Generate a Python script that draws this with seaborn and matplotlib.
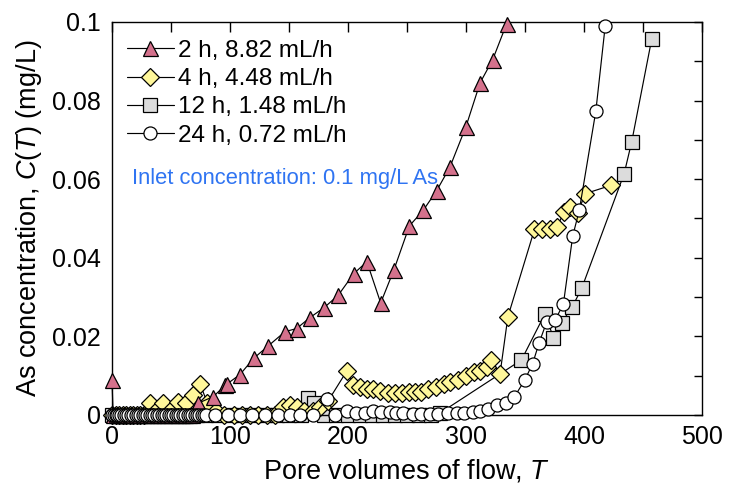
import matplotlib
matplotlib.use("Agg")
import matplotlib.pyplot as plt
import seaborn as sns
import numpy as np
import pandas as pd
from matplotlib.ticker import MultipleLocator

# ---------------- data ----------------
labels = ["2 h, 8.82 mL/h", "4 h, 4.48 mL/h", "12 h, 1.48 mL/h", "24 h, 0.72 mL/h"]

t2_x = [0, 1, 3, 5, 7, 9, 11, 13, 15, 17, 20, 23, 26, 29, 32, 35, 38, 41, 44, 47, 50,
        53, 56, 59, 62, 65, 68, 73, 86, 96, 97.5, 108.5, 120, 132.5, 146.6, 156.5,
        167.8, 179.7, 191.8, 205, 216, 227.7, 239, 252, 263.8, 275, 286.4, 300,
        311.9, 322.6, 334.5]
t2_y = [0.009, 0.0, 0.0, 0.0, 0.0, 0.0, 0.0, 0.0, 0.0, 0.0, 0.0, 0.0, 0.0, 0.0, 0.0,
        0.0, 0.0, 0.0, 0.0, 0.0, 0.0, 0.0, 0.0, 0.0, 0.0, 0.0, 0.0, 0.003, 0.0047,
        0.0076, 0.0079, 0.0103, 0.0144, 0.0176, 0.0212, 0.022, 0.0248, 0.0273, 0.0305,
        0.036, 0.039, 0.0285, 0.037, 0.0481, 0.0521, 0.057, 0.0631, 0.0734, 0.0845,
        0.0904, 0.0996]

t4_x = [0, 3, 6, 9, 12, 15, 18, 21, 24, 27, 32, 37, 43, 49, 56, 62.7, 69, 74.6, 80.8,
        88, 95, 103, 110, 117, 124, 131, 138, 145, 151, 156.5, 163, 170, 176, 183,
        199, 204.5, 210, 215.8, 221, 227.5, 233.5, 240, 245.5, 252, 257, 262, 268,
        274.6, 281, 286.4, 293.5, 300, 306.8, 311.9, 317.5, 321, 328.8, 335.5, 358,
        364, 371, 377.4, 383, 388, 395, 400.8, 422.6]
t4_y = [0.0, 0.0, 0.0, 0.0, 0.0, 0.0, 0.0, 0.0, 0.0, 0.0, 0.003, 0.001, 0.003, 0.001,
        0.0034, 0.003, 0.0051, 0.008, 0.003, 0.001, 0.0, 0.0, 0.0, 0.0, 0.0, 0.0, 0.0,
        0.002, 0.0025, 0.002, 0.001, 0.001, 0.002, 0.0035, 0.0112, 0.0076, 0.0072,
        0.0065, 0.0065, 0.006, 0.0055, 0.0057, 0.0055, 0.0059, 0.0059, 0.0059, 0.0066,
        0.007, 0.0079, 0.0085, 0.0088, 0.0098, 0.011, 0.0113, 0.0123, 0.014, 0.0104,
        0.025, 0.0472, 0.0472, 0.0472, 0.0479, 0.0517, 0.053, 0.0515, 0.0563, 0.0584]

t12_x = [0, 8, 16, 24, 32, 40, 48, 56, 64, 72, 80, 90, 100, 110, 120, 130, 140, 150,
         160, 166.4, 171, 180, 190, 200, 210, 220, 230, 240, 250, 260, 270, 278, 347,
         367, 374, 381, 390, 398, 434, 440.4, 457.4]
t12_y = [0.0, 0.0, 0.0, 0.0, 0.0, 0.0, 0.0, 0.0, 0.0, 0.0, 0.0, 0.0, 0.0, 0.0, 0.0, 0.0,
         0.0, 0.0, 0.0, 0.0042, 0.003, 0.0, 0.0, 0.0, 0.0, 0.0, 0.0, 0.0, 0.0, 0.0, 0.0,
         0.0005, 0.014, 0.0258, 0.0197, 0.0235, 0.0275, 0.0322, 0.0614, 0.0695, 0.0957]

t24_x = [0, 1.5, 3, 4.5, 6, 8, 10, 12, 14, 16, 18, 20, 22, 24, 26, 28, 30, 32, 34, 36,
         38, 40, 42, 44, 46, 48, 50, 52, 54, 56, 58, 60, 62, 64, 66, 68, 70, 72, 74, 76,
         78, 80, 87, 98.6, 108.5, 119, 130, 141, 151, 159, 170.6, 182.5, 189, 199, 207,
         214, 221, 228, 235.6, 241, 247, 255, 262, 269.5, 276.5, 285, 292, 298, 306, 312,
         319, 326, 334, 341, 350, 356.5, 362, 368.4, 375.4, 382.5, 390.4, 396, 410, 418]
t24_y = [0.0, 0.0, 0.0, 0.0, 0.0, 0.0, 0.0, 0.0, 0.0, 0.0, 0.0, 0.0, 0.0, 0.0, 0.0, 0.0,
         0.0, 0.0, 0.0, 0.0, 0.0, 0.0, 0.0, 0.0, 0.0, 0.0, 0.0, 0.0, 0.0, 0.0, 0.0, 0.0,
         0.0, 0.0, 0.0, 0.0, 0.0, 0.0, 0.0, 0.0, 0.0, 0.0, 0.0, 0.0, 0.0, 0.0, 0.0, 0.0,
         0.0, 0.0, 0.0, 0.004, 0.0, 0.001, 0.0005, 0.0005, 0.001, 0.0008, 0.0008, 0.0005,
         0.0005, 0.0003, 0.0003, 0.0003, 0.0003, 0.0005, 0.0005, 0.0005, 0.0008, 0.001,
         0.0015, 0.0025, 0.003, 0.0046, 0.009, 0.0131, 0.0184, 0.0237, 0.0241, 0.0282,
         0.0455, 0.0521, 0.0773, 0.0991]

x_ticks = [0, 100, 200, 300, 400, 500]
y_ticks = [0, 0.02, 0.04, 0.06, 0.08, 0.1]
y_tick_labels = ["0", "0.02", "0.04", "0.06", "0.08", "0.1"]
annotation = "Inlet concentration: 0.1 mg/L As"

# ---------------- style ----------------
sns.set_style("white")
plt.rcParams["font.family"] = ["Liberation Sans", "DejaVu Sans"]
plt.rcParams["mathtext.fontset"] = "custom"
plt.rcParams["mathtext.rm"] = "Liberation Sans"
plt.rcParams["mathtext.it"] = "Liberation Sans:italic"
plt.rcParams["text.color"] = "black"
plt.rcParams["axes.labelcolor"] = "black"
plt.rcParams["xtick.color"] = "black"
plt.rcParams["ytick.color"] = "black"

fig = plt.figure(figsize=(7.29, 4.83), dpi=100)
ax = fig.add_axes([0.1536, 0.1408, 0.8094, 0.8137])

series = [
    (t2_x, t2_y, "^", "#D4718C", 10.8, 3),
    (t4_x, t4_y, "D", "#FFF79A", 9.0, 2),
    (t12_x, t12_y, "s", "#DCDCDC", 9.5, 1),
    (t24_x, t24_y, "o", "#FFFFFF", 9.4, 4),
]

for (xs, ys, mk, fc, ms, zo), lab in zip(series, labels):
    df = pd.DataFrame({"T": xs, "C": ys})
    sns.lineplot(data=df, x="T", y="C", ax=ax, estimator=None, sort=False,
                 color="black", linewidth=0.85, marker=mk, markersize=ms,
                 markerfacecolor=fc, markeredgecolor="black", markeredgewidth=0.9,
                 clip_on=False, zorder=zo, label=lab, legend=False)

ax.set_xlim(0, 500)
ax.set_ylim(0, 0.1)
ax.set_xticks(x_ticks)
ax.set_yticks(y_ticks)
ax.set_yticklabels(y_tick_labels)
ax.xaxis.set_minor_locator(MultipleLocator(50))
ax.yaxis.set_minor_locator(MultipleLocator(0.01))
ax.tick_params(axis="both", which="both", direction="in", top=True, right=True,
               width=1.0, color="black", labelcolor="black")
ax.tick_params(axis="x", which="both", length=7, labelsize=18, pad=7)
ax.tick_params(axis="y", which="both", length=5.5, labelsize=18, pad=8)
for sp in ax.spines.values():
    sp.set_visible(True)
    sp.set_color("black")
    sp.set_linewidth(1.0)

ax.set_xlabel("Pore volumes of flow, $T$", fontsize=19.5, labelpad=6, color="black")
ax.set_ylabel("As concentration, $C$($T$) (mg/L)", fontsize=19.5, labelpad=6,
              color="black")

ax.text(17, 0.0602, annotation, color="#2F74F2", fontsize=15.8, va="center", ha="left")

leg = ax.legend(loc="upper left", bbox_to_anchor=(0.025, 0.955), frameon=False,
                fontsize=17.5, handlelength=1.95, handletextpad=0.15,
                labelspacing=0.26, borderaxespad=0, borderpad=0, numpoints=1)
for t in leg.get_texts():
    t.set_color("black")

fig.savefig("out.png", dpi=100)
